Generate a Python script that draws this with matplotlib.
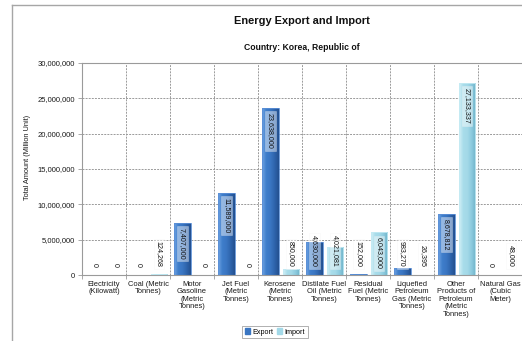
import numpy as np
import matplotlib
matplotlib.use("Agg")
import matplotlib.pyplot as plt
from matplotlib.lines import Line2D
from matplotlib.patches import Patch
from matplotlib.colors import LinearSegmentedColormap

plt.rcParams['font.family'] = ['Liberation Sans', 'DejaVu Sans']

categories = [
    "Electricity\n(Kilowatt)",
    "Coal (Metric\nTonnes)",
    "Motor\nGasoline\n(Metric\nTonnes)",
    "Jet Fuel\n(Metric\nTonnes)",
    "Kerosene\n(Metric\nTonnes)",
    "Distilate Fuel\nOil (Metric\nTonnes)",
    "Residual\nFuel (Metric\nTonnes)",
    "Liquefied\nPetroleum\nGas (Metric\nTonnes)",
    "Other\nProducts of\nPetroleum\n(Metric\nTonnes)",
    "Natural Gas\n(Cubic\nMeter)",
]
export_values = [0, 0, 7407000, 11589000, 23638000, 4630000, 152000, 983270, 8678812, 0]
import_values = [0, 124268, 0, 0, 850000, 4021081, 6043000, 26395, 27133337, 48000]
y_ticks = [0, 5000000, 10000000, 15000000, 20000000, 25000000, 30000000]

W, H, DPI = 522, 341, 100
fig = plt.figure(figsize=(W / DPI, H / DPI), dpi=DPI)
fig.patch.set_facecolor("white")

# chart-area frame (top and left edges)
fig.add_artist(Line2D([12 / W, 12 / W], [0, 1 - 5 / H], transform=fig.transFigure,
                      color="#A6A6A6", lw=1.0))
fig.add_artist(Line2D([12 / W, 1], [1 - 5 / H, 1 - 5 / H], transform=fig.transFigure,
                      color="#A6A6A6", lw=1.0))

left, right, top, bottom = 82, 522, 63, 275
ax = fig.add_axes([left / W, 1 - bottom / H, (right - left) / W, (bottom - top) / H])
ax.set_xlim(-0.5, len(categories) - 0.5)
ax.set_ylim(0, 30000000)

grid_color = "#9A9A9A"
for s in ["top", "left", "bottom"]:
    ax.spines[s].set_color(grid_color)
    ax.spines[s].set_linewidth(0.8)
ax.spines["right"].set_visible(False)

ax.set_yticks(y_ticks)
ax.set_yticklabels([f"{v:,}" for v in y_ticks], fontsize=5.5, color="#1A1A1A")
ax.yaxis.grid(True, linestyle=(0, (2, 1.2)), color=grid_color, linewidth=0.7)
ax.tick_params(axis="y", length=3, width=0.6, color=grid_color, pad=2)

x = np.arange(len(categories))
ax.set_xticks(x)
ax.set_xticklabels(categories, fontsize=5.4, color="#1A1A1A", linespacing=1.1)
ax.tick_params(axis="x", length=0, pad=4)
ax.set_xticks(np.arange(len(categories) + 1) - 0.5, minor=True)
ax.tick_params(axis="x", which="minor", length=3, width=0.6, color=grid_color)
for b in np.arange(1, len(categories)) - 0.5:
    ax.axvline(b, color=grid_color, linestyle=(0, (2, 1.2)), linewidth=0.7, zorder=0.5)
ax.set_axisbelow(True)

bar_w = 0.38
exp_off, imp_off = -0.215, 0.25

exp_cmap = LinearSegmentedColormap.from_list(
    "exp", ["#6FA3E3", "#3F7ECB", "#3A76C2", "#2E64AC", "#23508F"])
imp_cmap = LinearSegmentedColormap.from_list(
    "imp", ["#D2F0F7", "#A8DCEA", "#A3D9E8", "#8CCADE", "#6FB3C9"])

grad = np.linspace(0, 1, 64).reshape(1, -1)


def draw_bars(offset, values, cmap, edge):
    bars = ax.bar(x + offset, values, width=bar_w, color="none",
                  edgecolor=edge, linewidth=0.6, zorder=3)
    for rect, v in zip(bars, values):
        if v <= 0:
            continue
        x0 = rect.get_x()
        im = ax.imshow(grad, cmap=cmap, aspect="auto",
                       extent=[x0, x0 + rect.get_width(), 0, v],
                       interpolation="bilinear", zorder=2.5)
        im.set_clip_path(rect)
    return bars


draw_bars(exp_off, export_values, exp_cmap, "#5B8FD6")
draw_bars(imp_off, import_values, imp_cmap, "#C3EAF3")
ax.set_xlim(-0.5, len(categories) - 0.5)
ax.set_ylim(0, 30000000)

# value labels, rotated, inside the top of each bar or resting near the axis
px_per_unit = (bottom - top) / 30000000.0
pt = 72.0 / DPI
lab_size = 5.1


def label(xpos, v):
    txt = f"{v:,}"
    n_dig = sum(c.isdigit() for c in txt)
    n_com = txt.count(",")
    text_px = n_dig * 3.9 + n_com * 2.0
    bar_px = v * px_per_unit
    box = dict(boxstyle="square,pad=0.25", facecolor="white", alpha=0.45,
               edgecolor="#F2F2F2", linewidth=0.4)
    if bar_px >= text_px + 11:
        ax.annotate(txt, (xpos, v), xytext=(0, -5 * pt), textcoords="offset points",
                    rotation=270, ha="center", va="top", fontsize=lab_size,
                    color="#111111", bbox=box, zorder=5)
    else:
        ax.annotate(txt, (xpos, 0), xytext=(0, 8 * pt), textcoords="offset points",
                    rotation=270, ha="center", va="bottom", fontsize=lab_size,
                    color="#111111", bbox=box if v > 0 else None, zorder=5)


for i in range(len(categories)):
    label(x[i] + exp_off, export_values[i])
    label(x[i] + imp_off, import_values[i])

fig.text(302 / W, 1 - 21 / H, "Energy Export and Import", ha="center", va="center",
         fontsize=7.9, fontweight="bold", color="#111111")
fig.text(302 / W, 1 - 47 / H, "Country: Korea, Republic of", ha="center", va="center",
         fontsize=6.2, fontweight="bold", color="#111111")
fig.text(28 / W, 1 - 157 / H, "Total Amount (Million Unit)", rotation=90,
         ha="center", va="center", fontsize=5.3, color="#1A1A1A")

handles = [Patch(facecolor="#3A76C2", edgecolor="#3A76C2"),
           Patch(facecolor="#A3D9E8", edgecolor="#A3D9E8")]
leg = fig.legend(handles, ["Export", "Import"], loc="center",
                 bbox_to_anchor=(275 / W, 1 - 332 / H), ncol=2, fontsize=5.2,
                 frameon=True, fancybox=False, edgecolor="#8C8C8C",
                 handlelength=0.7, handleheight=0.7, handletextpad=0.3,
                 columnspacing=0.6, borderpad=0.4, borderaxespad=0)
leg.get_frame().set_linewidth(0.6)

fig.savefig("out.png", dpi=DPI)
